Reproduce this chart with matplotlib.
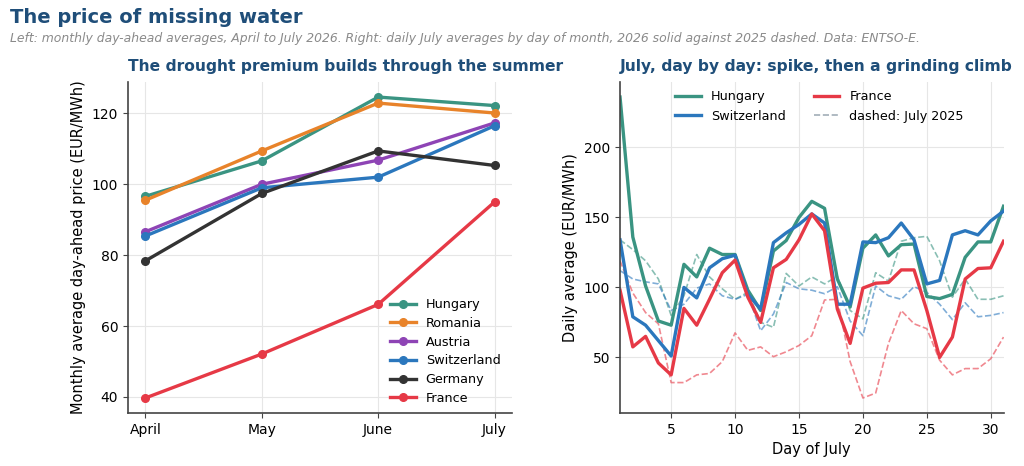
import matplotlib
matplotlib.use("Agg")
import matplotlib.pyplot as plt
from matplotlib.lines import Line2D

# ---------------- data ----------------
months = ["April", "May", "June", "July"]
countries = ["Hungary", "Romania", "Austria", "Switzerland", "Germany", "France"]
hungary_m = [96.6, 106.6, 124.6, 122.2]
romania_m = [95.5, 109.4, 122.9, 120.1]
austria_m = [86.6, 100.0, 106.8, 117.3]
switzerland_m = [85.4, 99.0, 102.0, 116.5]
germany_m = [78.4, 97.4, 109.4, 105.3]
france_m = [39.7, 52.1, 66.1, 95.0]

days = list(range(1, 32))
hu_2026 = [236, 136, 101, 76, 73, 116.5, 107.5, 128, 123.5, 123.5, 98, 83.5, 126, 133.5, 150,
           161.5, 156.5, 106, 86, 128, 137.5, 122.5, 130.5, 131, 93.5, 92, 95, 121.5, 132.5, 132.5, 158]
ch_2026 = [134, 79, 73, 62, 51, 100, 92.5, 114, 120.5, 123, 95, 84.5, 132, 139, 145,
           152.5, 146, 88, 88, 132.5, 132, 135.5, 146, 134, 102.5, 105, 137.5, 140.5, 137.5, 147.5, 154.5]
fr_2026 = [98, 57.5, 65, 46, 37.5, 85, 73, 91.5, 110.5, 119.5, 93, 75, 114, 120, 134,
           152.5, 140.5, 84.5, 60, 99.5, 103, 103.5, 112.5, 112.5, 83.5, 50, 64.5, 106, 113.5, 114, 133]
hu_2025 = [134, 127, 119, 106, 80, 94, 123.5, 107.5, 99, 91.5, 96.5, 75, 71.5, 110, 101,
           107.5, 102.5, 108, 83.5, 77.5, 110.5, 104.5, 133, 135.5, 136.5, 119, 93, 106, 91.5, 91.5, 94]
ch_2025 = [112, 106, 104, 102.5, 83.5, 88, 99.5, 102.5, 94, 91.5, 95, 69, 81, 103.5, 99,
           98, 95.5, 100.5, 76, 65.5, 101, 94, 91.5, 100.5, 96.5, 88, 77, 89, 79, 80, 82]
fr_2025 = [119, 96, 82, 74, 32, 32, 37.5, 38.5, 47, 67.5, 55, 57.5, 50.5, 54, 58.5,
           65.5, 91, 91.5, 47, 21, 24.5, 60, 83.5, 74, 70.5, 48, 37.5, 42, 42, 49, 64.5]

colors = {
    "Hungary": "#3a9482",
    "Romania": "#e8832a",
    "Austria": "#8e44b5",
    "Switzerland": "#2b77bd",
    "Germany": "#333333",
    "France": "#e63946",
}
title_color = "#1f4e79"

# ---------------- figure ----------------
plt.rcParams['font.family'] = ['DejaVu Sans']
fig = plt.figure(figsize=(10.24, 4.66), dpi=100)
ax1 = fig.add_axes([0.125, 0.1137, 0.375, 0.7103])
ax2 = fig.add_axes([0.6055, 0.1137, 0.3745, 0.7103])

fig.text(0.0098, 0.962, "The price of missing water", fontsize=14, fontweight="bold",
         color=title_color, ha="left", va="center")
fig.text(0.0098, 0.918,
         "Left: monthly day-ahead averages, April to July 2026. Right: daily July averages by day of month, "
         "2026 solid against 2025 dashed. Data: ENTSO-E.",
         fontsize=8.95, style="italic", color="#8a8a8a", ha="left", va="center")

# left panel
monthly = [hungary_m, romania_m, austria_m, switzerland_m, germany_m, france_m]
x = list(range(len(months)))
for name, vals in zip(countries, monthly):
    ax1.plot(x, vals, color=colors[name], lw=2.4, marker="o", ms=5.5, label=name)
ax1.set_xticks(x)
ax1.set_xticklabels(months)
ax1.set_yticks([40, 60, 80, 100, 120])
ax1.set_ylabel("Monthly average day-ahead price (EUR/MWh)", fontsize=10.5)
ax1.set_title("The drought premium builds through the summer", loc="left",
              fontsize=11.2, fontweight="bold", color=title_color, pad=8)
ax1.legend(loc="lower right", frameon=False, fontsize=9.2, handlelength=2.0,
           labelspacing=0.45, bbox_to_anchor=(1.0, -0.01))

# right panel
ax2.plot(days, hu_2025, color=colors["Hungary"], lw=1.2, ls="--", alpha=0.6)
ax2.plot(days, ch_2025, color=colors["Switzerland"], lw=1.2, ls="--", alpha=0.6)
ax2.plot(days, fr_2025, color=colors["France"], lw=1.2, ls="--", alpha=0.6)
ax2.plot(days, hu_2026, color=colors["Hungary"], lw=2.4, label="Hungary")
ax2.plot(days, ch_2026, color=colors["Switzerland"], lw=2.4, label="Switzerland")
ax2.plot(days, fr_2026, color=colors["France"], lw=2.4, label="France")
ax2.set_xlim(1, 31)
ax2.set_xticks([5, 10, 15, 20, 25, 30])
ax2.set_yticks([50, 100, 150, 200])
ax2.set_xlabel("Day of July", fontsize=10.5)
ax2.set_ylabel("Daily average (EUR/MWh)", fontsize=10.5)
ax2.set_title("July, day by day: spike, then a grinding climb", loc="left",
              fontsize=11.2, fontweight="bold", color=title_color, pad=8)
handles = [
    Line2D([], [], color=colors["Hungary"], lw=2.4),
    Line2D([], [], color=colors["Switzerland"], lw=2.4),
    Line2D([], [], color=colors["France"], lw=2.4),
    Line2D([], [], color="#8a9aa6", lw=1.2, ls="--", alpha=0.8),
]
labels = ["Hungary", "Switzerland", "France", "dashed: July 2025"]
ax2.legend(handles, labels, loc="upper center", ncol=2, frameon=False, fontsize=9.2,
           handlelength=2.0, columnspacing=2.2, bbox_to_anchor=(0.52, 1.01))

for ax in (ax1, ax2):
    ax.grid(True, color="#e6e6e6", lw=0.8)
    ax.set_axisbelow(True)
    for s in ("top", "right"):
        ax.spines[s].set_visible(False)
    for s in ("left", "bottom"):
        ax.spines[s].set_color("#444444")
        ax.spines[s].set_linewidth(1.2)
    ax.tick_params(labelsize=10, color="#444444")

fig.savefig("out.png", dpi=100)
